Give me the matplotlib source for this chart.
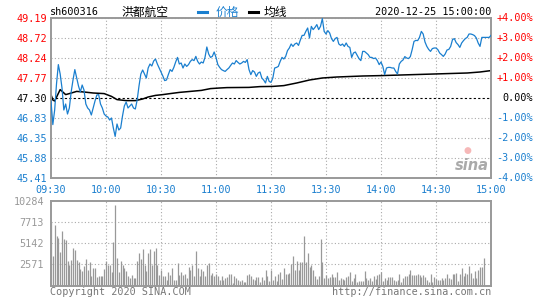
import numpy as np
import matplotlib
matplotlib.use("Agg")
import matplotlib.pyplot as plt
from matplotlib.lines import Line2D

# percent change vs previous close, one value per minute (09:30..11:30, 13:01..15:00)
price_pct = [
    -0.15, -1.33, -0.6, 0.7, 1.67, 1.2, 0.5, -0.6, -0.3, -0.8,
    -0.5, 0.3, 0.9, 1.42, 1.0, 0.6, 0.3, 0.65, 0.4, -0.3,
    -0.5, -0.6, -0.85, -0.5, -0.15, 0.15, 0.17, -0.3, -0.5, -0.8,
    -0.9, -0.95, -1.1, -1.0, -1.5, -1.92, -1.3, -1.6, -1.5, -0.9,
    -0.4, -0.2, -0.5, -0.4, -0.3, -0.5, -0.55, -0.1, 0.6, 1.2,
    1.4, 1.2, 1.0, 1.5, 1.7, 1.6, 1.85, 1.95, 1.7, 1.5,
    1.3, 1.1, 0.87, 0.9, 1.17, 1.42, 1.33, 1.53, 1.8, 2.03,
    1.7, 1.75, 1.5, 1.7, 1.58, 1.67, 1.83, 1.92, 1.87, 2.08,
    1.83, 1.7, 1.8, 1.75, 2.03, 2.55, 2.2, 2.03, 2.08, 2.3,
    2.03, 1.67, 1.53, 1.42, 1.37, 1.33, 1.42, 1.5, 1.63, 1.75,
    1.7, 1.87, 1.78, 1.7, 1.75, 1.83, 1.78, 1.92, 1.42, 1.17,
    1.37, 1.3, 1.08, 1.25, 1.3, 1.0, 0.9, 0.75, 1.08, 0.83,
    0.78, 1.0, 1.5, 1.53, 1.58, 1.83, 2.03, 1.95, 2.08, 2.37,
    2.5, 2.7, 2.58, 2.7, 2.75, 2.63, 2.9, 3.13, 3.13, 3.33,
    3.5, 3.0, 3.58, 3.42, 3.53, 3.67, 3.42, 3.58, 3.97, 3.33,
    3.2, 3.37, 3.25, 2.97, 2.83, 2.97, 3.03, 2.7, 2.63, 2.7,
    2.58, 2.75, 2.58, 2.53, 2.03, 2.25, 2.3, 2.13, 1.97, 1.87,
    2.33, 2.33, 2.25, 2.17, 2.03, 2.03, 1.97, 2.0, 1.87, 1.67,
    1.8, 1.58, 1.17, 1.5, 1.53, 1.53, 1.5, 1.5, 1.33, 1.2,
    1.7, 1.83, 1.9, 2.07, 2.0, 1.97, 2.07, 2.42, 2.83, 2.88,
    2.87, 3.03, 3.33, 3.2, 2.8, 2.58, 2.43, 2.33, 2.47, 2.5,
    2.5, 2.42, 2.25, 2.17, 2.08, 2.2, 2.4, 2.43, 2.58, 2.92,
    2.97, 2.77, 2.67, 2.53, 2.75, 2.87, 2.97, 3.03, 3.2, 3.2,
    3.17, 3.12, 3.0, 2.75, 2.58, 3.03, 3.03, 3.03, 3.03, 3.03,
    3.13,
]

# average price line, sampled at these minutes
avg_minutes = [0, 1, 2, 5, 8, 10, 14, 18, 23, 29, 33, 36, 41, 46, 50, 53, 57, 61,
               65, 70, 76, 82, 87, 92, 96, 108, 114, 121,
               127, 134, 141, 148, 156, 170, 180, 198, 209, 227, 234, 240]
avg_pct = [0.17, -0.1, -0.15, 0.42, 0.17, 0.22, 0.33, 0.3, 0.25, 0.22, 0.08, -0.08, -0.13, -0.13,
           -0.05, 0.05, 0.13, 0.17,
           0.22, 0.28, 0.33, 0.38, 0.47, 0.5, 0.52, 0.53, 0.57, 0.58,
           0.62, 0.75, 0.9, 1.0, 1.05, 1.1, 1.12, 1.17, 1.2, 1.25, 1.3, 1.37]

volume = [
    7750, 3570, 7340, 6030, 5780, 4060, 6640, 5620, 5540, 2950,
    2540, 3080, 4510, 4300, 3080, 2830, 2010, 1720, 2340, 3240,
    1850, 2910, 1190, 2090, 2090, 1025, 1110, 1110, 1110, 2010,
    3030, 2540, 2540, 1600, 5290, 9840, 3320, 1600, 2950, 2540,
    2130, 1720, 1110, 860, 1230, 860, 860, 2950, 3900, 3240,
    4390, 2540, 1720, 3900, 4470, 2540, 4180, 4550, 2540, 1310,
    1930, 1110, 1110, 615, 1600, 1310, 2130, 615, 615, 2750,
    1310, 1600, 1310, 1350, 900, 2210, 1850, 2540, 1190, 4220,
    2090, 1190, 2010, 1720, 1190, 2540, 2750, 1270, 1520, 1110,
    1430, 1110, 615, 1190, 615, 900, 1025, 1350, 1350, 290,
    1110, 940, 615, 530, 700, 450, 450, 1270, 1430, 1110,
    780, 700, 1025, 1025, 370, 1025, 700, 1850, 1190, 490,
    1930, 615, 1190, 490, 1430, 1680, 780, 2090, 1350, 1350,
    1520, 2670, 3650, 1850, 2950, 1850, 2830, 2830, 6030, 2830,
    3980, 2260, 2540, 1850, 1110, 780, 1110, 5700, 2830, 900,
    1310, 900, 1025, 1430, 1025, 1025, 1600, 615, 860, 780,
    700, 1025, 1190, 1600, 490, 860, 1350, 370, 490, 490,
    490, 1720, 860, 700, 860, 530, 1190, 780, 1270, 1430,
    1680, 490, 860, 700, 980, 980, 980, 700, 530, 700,
    1430, 450, 860, 1110, 1190, 1430, 1850, 1270, 1270, 1270,
    1350, 1270, 1025, 1270, 1025, 700, 370, 1350, 370, 1025,
    780, 615, 700, 860, 700, 860, 1350, 860, 780, 1350,
    1350, 1520, 530, 1350, 2090, 1190, 1520, 1430, 2420, 1520,
    940, 1760, 860, 1850, 2260, 2260, 3400, 0, 0, 0,
    0,
]

pct_ticks = [-4, -3, -2, -1, 0, 1, 2, 3, 4]
price_labels = ["45.41", "45.88", "46.35", "46.83", "47.30", "47.77", "48.24", "48.72", "49.19"]
pct_labels = ["-4.00%", "-3.00%", "-2.00%", "-1.00%", "0.00%", "+1.00%", "+2.00%", "+3.00%", "+4.00%"]
time_pos = [0, 30, 60, 90, 120, 150, 180, 210, 240]
time_labels = ["09:30", "10:00", "10:30", "11:00", "11:30", "13:30", "14:00", "14:30", "15:00"]
vol_ticks = [2571, 5142, 7713, 10284]

BLUE = "#1a7fcf"
RED = "#ff0000"
GRAY = "#999999"
MONO = "DejaVu Sans Mono"
CJK = ["Noto Sans CJK SC", "DejaVu Sans"]
FS = 7.3

W, H = 545, 300
fig = plt.figure(figsize=(W / 100, H / 100), dpi=100)
fig.patch.set_facecolor("white")


def fx(px):
    return px / W


def fy(py):
    return 1 - py / H


def label_color(v):
    return RED if v > 0 else (BLUE if v < 0 else "black")


ax = fig.add_axes([fx(51), fy(178), 440 / W, 160 / H])
axv = fig.add_axes([fx(51), fy(285.5), 440 / W, 84.5 / H])

grid_kw = dict(color="#aaaaaa", lw=0.8, ls=(0, (1, 2)))
for a in (ax, axv):
    for s in a.spines.values():
        s.set_color(GRAY)
        s.set_linewidth(1.4)
    a.tick_params(length=0)
    a.set_xlim(0, 240)
    a.set_xticks(time_pos)

# price panel
minutes = np.arange(len(price_pct))
ax.set_ylim(-4, 4)
ax.set_yticks(pct_ticks)
ax.set_yticklabels(price_labels, fontfamily=MONO, fontsize=FS)
for lab, v in zip(ax.get_yticklabels(), pct_ticks):
    lab.set_color(label_color(v))
ax.tick_params(axis="y", pad=3)
ax.set_xticklabels(time_labels, fontfamily=MONO, fontsize=FS, color=BLUE)
ax.tick_params(axis="x", pad=5)
for v in pct_ticks:
    if v != 0:
        ax.axhline(v, **grid_kw, zorder=0)
for t in time_pos[1:-1]:
    ax.axvline(t, **grid_kw, zorder=0)
ax.axhline(0, color="black", lw=0.8, ls=(0, (2, 2)), zorder=1)
ax.plot(avg_minutes, avg_pct, color="black", lw=1.1, zorder=2)
ax.plot(minutes, price_pct, color=BLUE, lw=0.9, zorder=3)
for v, lab in zip(pct_ticks, pct_labels):
    ax.text(1 + 42 / 440, v, lab, transform=ax.get_yaxis_transform(), ha="right", va="center",
            fontfamily=MONO, fontsize=FS, color=label_color(v))

# sina watermark
fig.text(fx(467), fy(151), "\u25cf", color="#f6b8b8", fontsize=6.5, ha="center", va="center")
fig.text(fx(472), fy(166), "sina", color="#aaaaaa", fontsize=10.5, fontweight="bold",
         fontstyle="italic", ha="center", va="center")

# volume panel
axv.vlines(minutes, 0, volume, color=GRAY, lw=0.9)
axv.set_ylim(0, 10284)
axv.set_yticks(vol_ticks)
axv.set_yticklabels([str(v) for v in vol_ticks], fontfamily=MONO, fontsize=FS, color=GRAY)
axv.tick_params(axis="y", pad=5)
axv.set_xticklabels([])
for v in vol_ticks[:-1]:
    axv.axhline(v, **grid_kw, zorder=0)
for t in time_pos[1:-1]:
    axv.axvline(t, **grid_kw, zorder=0)

# header
fig.text(fx(50), fy(12), "sh600316", fontfamily=MONO, fontsize=FS, va="center")
fig.text(fx(121), fy(12), "洪都航空", family=CJK, fontsize=8.5, va="center")
fig.add_artist(Line2D([fx(198), fx(207)], [fy(12), fy(12)], color=BLUE, lw=2.2, transform=fig.transFigure))
fig.text(fx(216), fy(12), "价格", family=CJK, fontsize=8.5, color=BLUE, va="center")
fig.add_artist(Line2D([fx(249), fx(258)], [fy(12), fy(12)], color="black", lw=2.2, transform=fig.transFigure))
fig.text(fx(264), fy(12), "均线", family=CJK, fontsize=8.5, va="center")
fig.text(fx(491), fy(12), "2020-12-25 15:00:00", fontfamily=MONO, fontsize=FS, ha="right", va="center")

# footer
fig.text(fx(50), fy(292), "Copyright 2020 SINA.COM", fontfamily=MONO, fontsize=FS, color="#777777", va="center")
fig.text(fx(491), fy(292), "http://finance.sina.com.cn", fontfamily=MONO, fontsize=FS, color="#777777",
         ha="right", va="center")

fig.savefig("out.png", dpi=100, facecolor="white")
